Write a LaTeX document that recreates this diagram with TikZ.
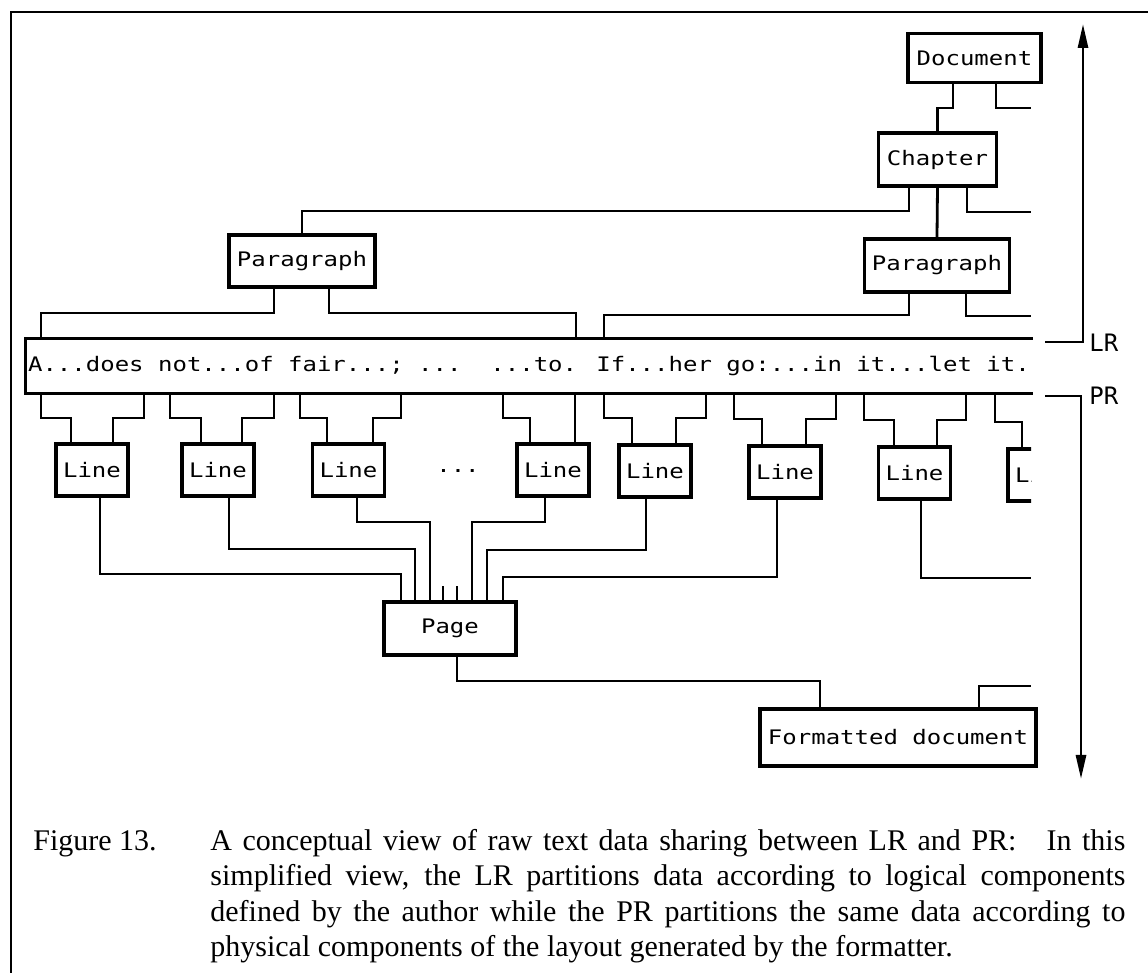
\documentclass[tikz,border=0pt]{standalone}
\usepackage{fontspec}
\setmainfont{Liberation Serif}
\newfontfamily\boxfont[FakeStretch=1.2]{DejaVu Sans Mono}
\newfontfamily\sidefont{DejaVu Sans Mono}
\newfontfamily\capfont{Liberation Serif}
\usetikzlibrary{arrows.meta}

\begin{document}
\begin{tikzpicture}[x=0.5pt, y=-0.5pt, >={Triangle[length=12pt, width=5pt]},
  box/.style={rectangle, draw, line width=1.7pt, inner sep=0pt, font=\boxfont\fontsize{10}{12}\selectfont},
  linebox/.style={box, minimum width=36pt, minimum height=26pt},
  wire/.style={line width=1.4pt},
  frame/.style={line width=1.4pt},
  side/.style={anchor=west, inner sep=0pt, font=\sidefont\fontsize{12}{12}\selectfont},
  caption/.style={inner sep=0pt, font=\capfont\fontsize{15}{17.8}\selectfont}
]
  \useasboundingbox (0,0) rectangle (1148,973);
  \draw[frame] (11,973) -- (11,12) -- (1148,12);

  % -- Logical tree --
  \node[box, minimum width=66.5pt, minimum height=24.5pt] (doc) at (974.5,58) {Document};
  \node[box, minimum width=59pt, minimum height=26.5pt] (chap) at (937.5,159.5) {Chapter};
  \node[box, minimum width=73pt, minimum height=26pt] (parL) at (302,261) {Paragraph};
  \node[box, minimum width=72.5pt, minimum height=26.5pt] (parR) at (937,265.5) {Paragraph};

  \coordinate (docR) at (1031,108);
  \coordinate (chapR) at (1031,212);
  \coordinate (parRR) at (1031,316);

  \draw[wire] (doc.south -| 953,0) -- (953,108) -| (chap.north);
  \draw[wire] (doc.south -| 996,0) |- (docR);
  \draw[wire] (chap.south -| 909,0) |- (302,211) -- (parL.north);
  \draw[wire] (chap.south) -- (parR.north);
  \draw[wire] (chap.south -| 967,0) |- (chapR);

  % -- Raw text data --
  \node[box, draw=none, minimum width=502pt, minimum height=26pt] (strip) at (529,366) {A...does not...of fair...;~...~~...to. If...her go:...in it...let it.};
  \draw[wire] (strip.north east) -- (strip.north west) -- (strip.south west) -- (strip.south east);

  \draw[wire] (parL.south -| 274,0) |- (41,313) -- (strip.north -| 41,0);
  \draw[wire] (parL.south -| 329,0) |- (576,313) -- (strip.north -| 576,0);
  \draw[wire] (parR.south -| 909,0) |- (604,315) -- (strip.north -| 604,0);
  \draw[wire] (parR.south -| 966,0) |- (parRR);

  % -- Layout tree --
  \node[linebox] (line1) at (92,470) {Line};
  \node[linebox] (line2) at (218,470) {Line};
  \node[linebox] (line3) at (348.5,470) {Line};
  \node[box, draw=none] (dots) at (458,471) {...};
  \node[linebox] (line4) at (553,470) {Line};
  \node[linebox] (line5) at (655,471) {Line};
  \node[linebox] (line6) at (785,472) {Line};
  \node[linebox] (line7) at (914.5,473) {Line};
  \begin{scope}
    \clip (980,430) rectangle (1031,520);
    \node[linebox] (line8) at (1044,475) {Line};
  \end{scope}

  \draw[wire] (strip.south -| 41,0) |- (71,418) -- (line1.north -| 71,0);
  \draw[wire] (strip.south -| 144,0) |- (113,418) -- (line1.north -| 113,0);
  \draw[wire] (strip.south -| 170,0) |- (201,418) -- (line2.north -| 201,0);
  \draw[wire] (strip.south -| 274,0) |- (242,418) -- (line2.north -| 242,0);
  \draw[wire] (strip.south -| 300,0) |- (327,418) -- (line3.north -| 327,0);
  \draw[wire] (strip.south -| 401,0) |- (373,418) -- (line3.north -| 373,0);
  \draw[wire] (strip.south -| 503,0) |- (530,418) -- (line4.north -| 530,0);
  \draw[wire] (strip.south -| 575,0) -- (line4.north -| 575,0);
  \draw[wire] (strip.south -| 604,0) |- (632,418) -- (line5.north -| 632,0);
  \draw[wire] (strip.south -| 706,0) |- (676,418) -- (line5.north -| 676,0);
  \draw[wire] (strip.south -| 734,0) |- (762,419) -- (line6.north -| 762,0);
  \draw[wire] (strip.south -| 836,0) |- (806,419) -- (line6.north -| 806,0);
  \draw[wire] (strip.south -| 864,0) |- (894,420) -- (line7.north -| 894,0);
  \draw[wire] (strip.south -| 966,0) |- (937,420) -- (line7.north -| 937,0);
  \draw[wire] (strip.south -| 995,0) |- (1022,422) -- (line8.north -| 1022,0);

  \node[box, minimum width=66pt, minimum height=26.5pt] (page) at (450,628.5) {Page};
  \node[box, minimum width=138pt, minimum height=28.5pt] (fdoc) at (898,737.5) {Formatted document};

  \coordinate (line7R) at (1031,578);
  \coordinate (fdocR) at (1031,686);

  \draw[wire] (line1.south -| 100,0) |- (401,574) -- (page.north -| 401,0);
  \draw[wire] (line2.south -| 229,0) |- (415,549) -- (page.north -| 415,0);
  \draw[wire] (line3.south -| 357,0) |- (430,522) -- (page.north -| 430,0);
  \draw[wire] (page.north -| 443,0) -- ++(0,-14);
  \draw[wire] (page.north -| 457,0) -- ++(0,-14);
  \draw[wire] (line4.south -| 545,0) |- (472,522) -- (page.north -| 472,0);
  \draw[wire] (line5.south -| 646,0) |- (487,550) -- (page.north -| 487,0);
  \draw[wire] (line6.south -| 777,0) |- (503,577) -- (page.north -| 503,0);
  \draw[wire] (line7.south -| 921,0) |- (line7R);

  \draw[wire] (page.south -| 457,0) |- (820,681) -- (fdoc.north -| 820,0);
  \draw[wire] (fdoc.north -| 979,0) |- (fdocR);

  % -- LR / PR arrows --
  \coordinate (lrEnd) at (1045,342);
  \coordinate (top) at (1083,24);
  \coordinate (prEnd) at (1045,396);
  \coordinate (bottom) at (1081,779);
  \draw[wire, ->] (lrEnd) -| (top);
  \draw[wire, ->] (prEnd) -| (bottom);
  \node[side] (lr) at (1089,343) {LR};
  \node[side] (pr) at (1089,396) {PR};

  % -- Caption --
  \node[caption, anchor=base west] (fig) at (33,850) {Figure 13.};
  \node[caption, anchor=base west, text width=457.5pt, align=justify] (cap) at (210,850)
    {A conceptual view of raw text data sharing between LR and PR:\quad In this\linebreak
     simplified view, the LR partitions data according to logical components\linebreak
     defined by the author while the PR partitions the same data according to\linebreak
     physical components of the layout generated by the formatter.};
\end{tikzpicture}
\end{document}
